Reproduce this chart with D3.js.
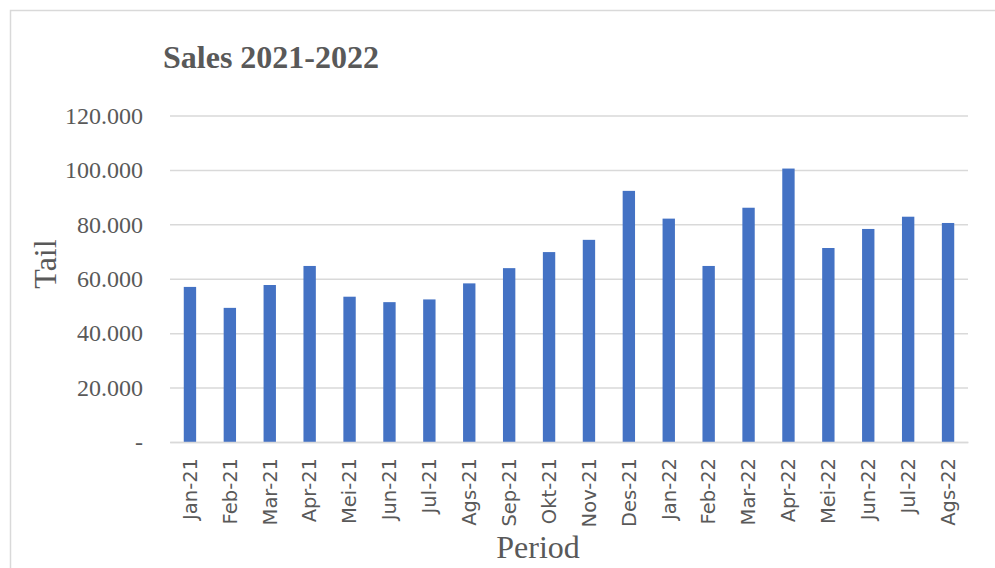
<!DOCTYPE html>
<html>
<head>
<meta charset="utf-8">
<script src="https://cdn.jsdelivr.net/npm/d3@7"></script>
<style>
  body { margin: 0; background: #fff; }
</style>
</head>
<body>
<script>
var periods = ["Jan-21","Feb-21","Mar-21","Apr-21","Mei-21","Jun-21","Jul-21","Ags-21","Sep-21","Okt-21","Nov-21","Des-21",
               "Jan-22","Feb-22","Mar-22","Apr-22","Mei-22","Jun-22","Jul-22","Ags-22"];
var sales = [57000,49300,57700,64700,53400,51400,52400,58300,63900,69800,74300,92300,
             82100,64700,86100,100500,71300,78300,82800,80500];
var yTicks = [0,20000,40000,60000,80000,100000,120000];

var width = 995, height = 568;
var plotLeft = 170, plotRight = 968, plotTop = 115.5, plotBottom = 442;

var svg = d3.select("body").append("svg").attr("width",width).attr("height",height);

// chart area border (only top and left visible)
svg.append("rect")
  .attr("x",10.5).attr("y",10.5)
  .attr("width",1100).attr("height",700)
  .attr("fill","none").attr("stroke","#d9d9d9").attr("stroke-width",1.5);

var x = d3.scaleBand()
  .domain(periods)
  .range([plotLeft,plotRight])
  .paddingInner(0.69)
  .paddingOuter(0.345);

var y = d3.scaleLinear()
  .domain([0,120000])
  .range([plotBottom,plotTop]);

var fmt = function(d){ return d === 0 ? "-" : d3.format(",.0f")(d).replace(/,/g,"."); };

// gridlines + y labels
var yAxis = d3.axisLeft(y).tickValues(yTicks).tickSize(-(plotRight-plotLeft)).tickFormat(fmt).tickPadding(27);
var gy = svg.append("g").attr("transform","translate(" + plotLeft + ",0)").call(yAxis);
gy.select(".domain").remove();
gy.selectAll(".tick line").attr("stroke","#d9d9d9").attr("stroke-width",1.5);
gy.selectAll(".tick text")
  .attr("fill","#595959")
  .attr("font-family","'Liberation Serif', 'Times New Roman', serif")
  .attr("font-size","24px");

// bars
svg.selectAll("rect.bar")
  .data(sales)
  .enter().append("rect")
    .attr("class","bar")
    .attr("x",function(d,i){ return x(periods[i]); })
    .attr("width",x.bandwidth())
    .attr("y",function(d){ return y(d); })
    .attr("height",function(d){ return y(0) - y(d); })
    .attr("fill","#4472c4");

// x axis
var xAxis = d3.axisBottom(x).tickSize(0).tickPadding(0);
var gx = svg.append("g").attr("transform","translate(0," + plotBottom + ")").call(xAxis);
gx.select(".domain").attr("stroke","#d9d9d9").attr("stroke-width",1.5);
gx.selectAll(".tick text")
  .attr("fill","#595959")
  .attr("font-family","'DejaVu Sans', sans-serif")
  .attr("font-size","19.5px")
  .attr("text-anchor","end")
  .attr("dy","0.35em")
  .attr("transform","translate(0,16) rotate(-90)")
  .attr("x",0).attr("y",0);

// title
svg.append("text")
  .attr("x",163).attr("y",68)
  .attr("fill","#595959")
  .attr("font-family","'Liberation Serif', 'Times New Roman', serif")
  .attr("font-weight","bold")
  .attr("font-size","32px")
  .text("Sales 2021-2022");

// axis titles
svg.append("text")
  .attr("transform","translate(56,264) rotate(-90)")
  .attr("text-anchor","middle")
  .attr("fill","#595959")
  .attr("font-family","'Liberation Serif', 'Times New Roman', serif")
  .attr("font-size","32px")
  .text("Tail");

svg.append("text")
  .attr("x",538).attr("y",558)
  .attr("text-anchor","middle")
  .attr("fill","#595959")
  .attr("font-family","'Liberation Serif', 'Times New Roman', serif")
  .attr("font-size","32px")
  .text("Period");
</script>
</body>
</html>
